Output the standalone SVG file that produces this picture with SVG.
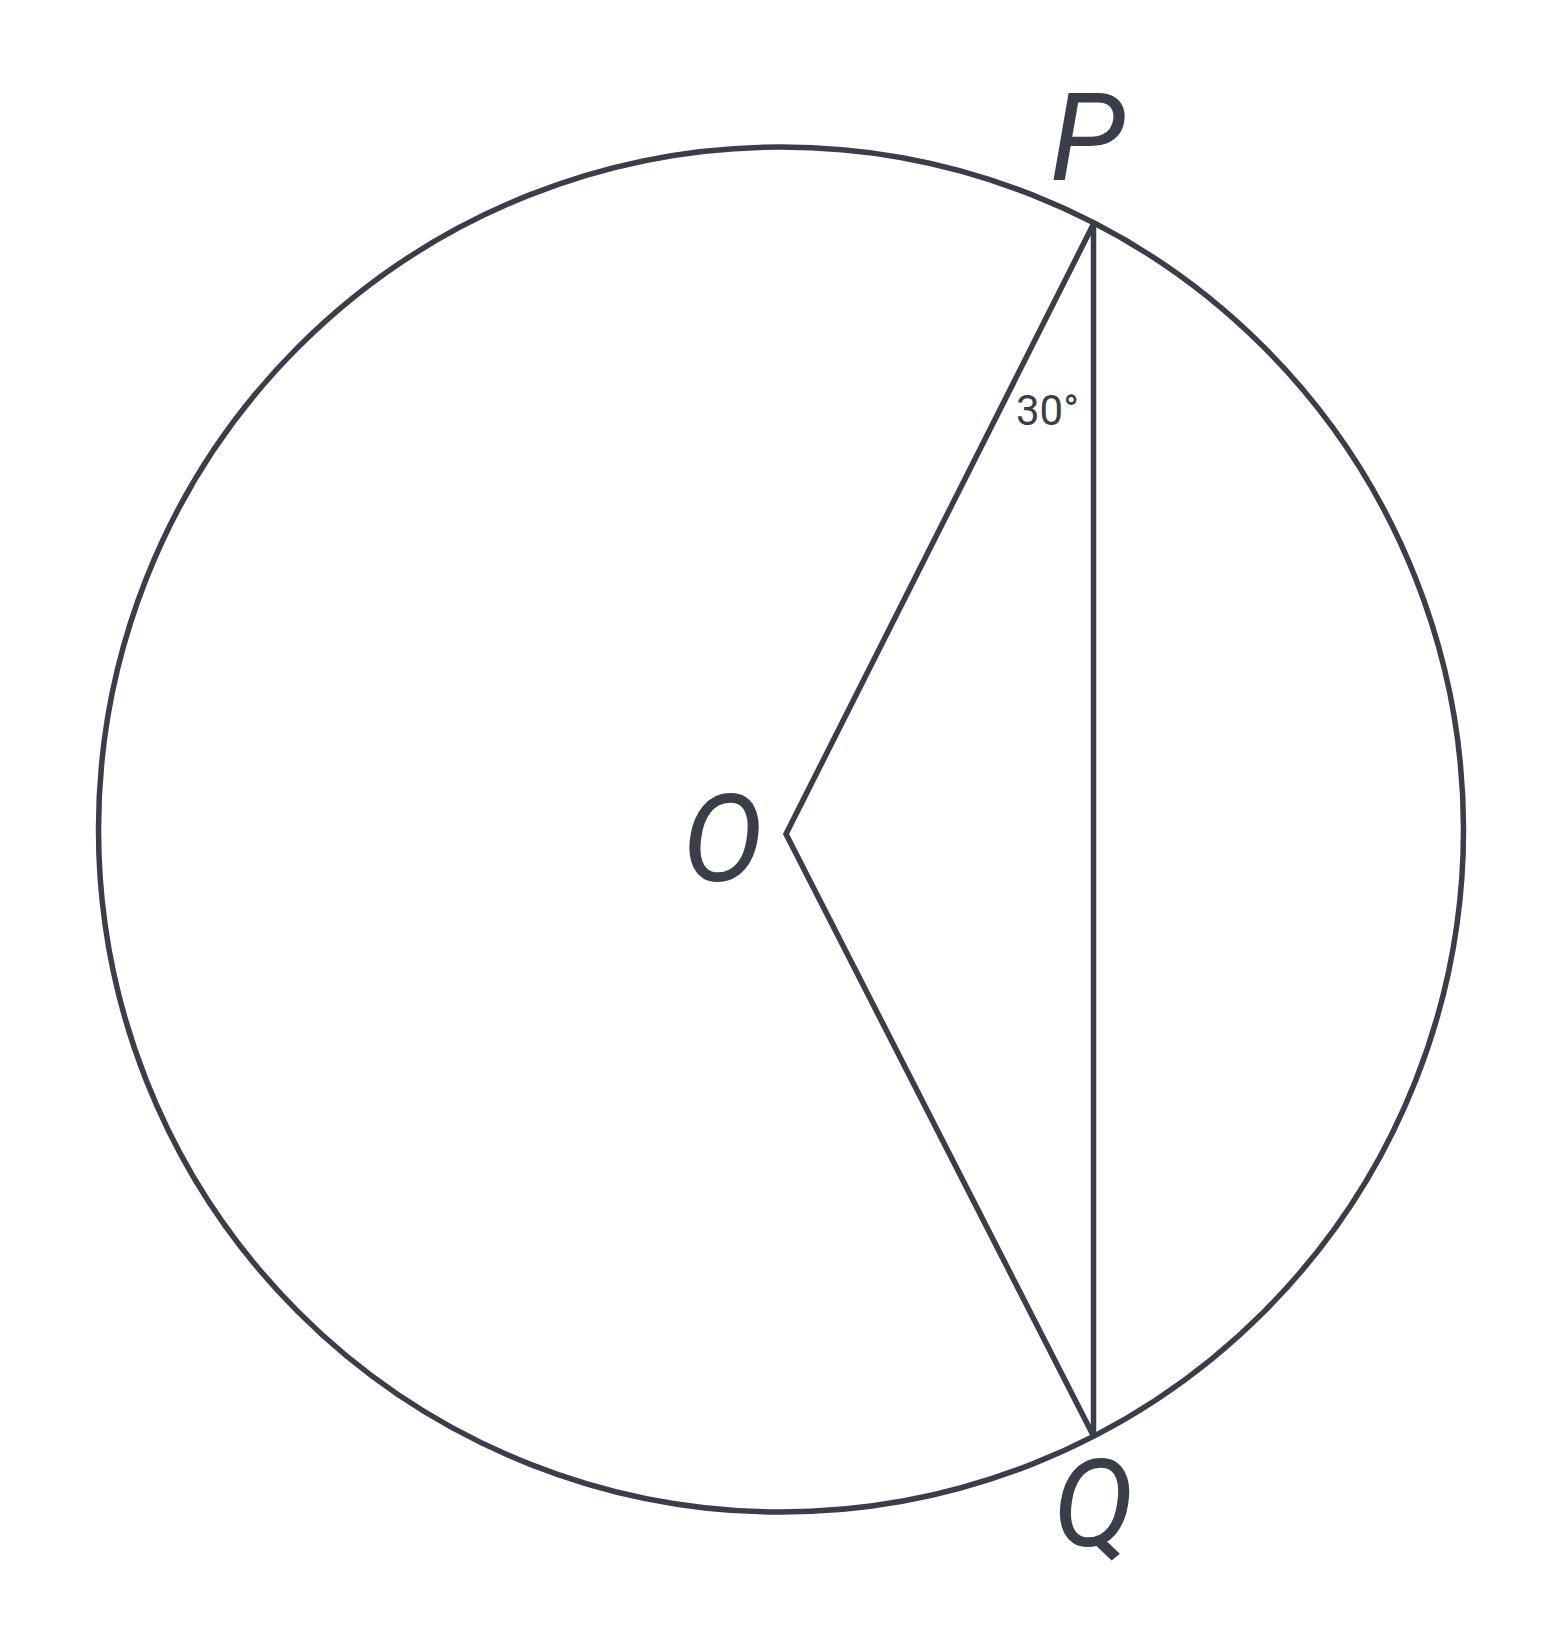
<svg xmlns="http://www.w3.org/2000/svg" width="1566" height="1626" viewBox="0 0 1566 1626">
<style>
.ln{fill:none;stroke:#3a3e49;stroke-width:5.5;stroke-linejoin:miter}
.lbl{font-family:Roboto,"Liberation Sans",sans-serif;font-style:italic;font-size:122px;fill:#3a3e49}
.ang{font-family:Roboto,"Liberation Sans",sans-serif;font-size:42px;fill:#3a3e49}
</style>
<rect width="1566" height="1626" fill="#ffffff"/>
<g id="circle"><circle class="ln" cx="781" cy="829.5" r="682.5"/></g>
<g id="connectors">
<polyline class="ln" points="1093.5,224 786,834 1093.5,1436"/>
<line class="ln" x1="1093.5" y1="224" x2="1093.5" y2="1436"/>
</g>
<g id="node-P"><text class="lbl" x="1050" y="180">P</text></g>
<g id="node-O"><text class="lbl" x="682" y="881">O</text></g>
<g id="node-Q"><text class="lbl" x="1053" y="1546">Q</text></g>
<g id="angle"><text class="ang" x="1016" y="425">30°</text></g>
</svg>
